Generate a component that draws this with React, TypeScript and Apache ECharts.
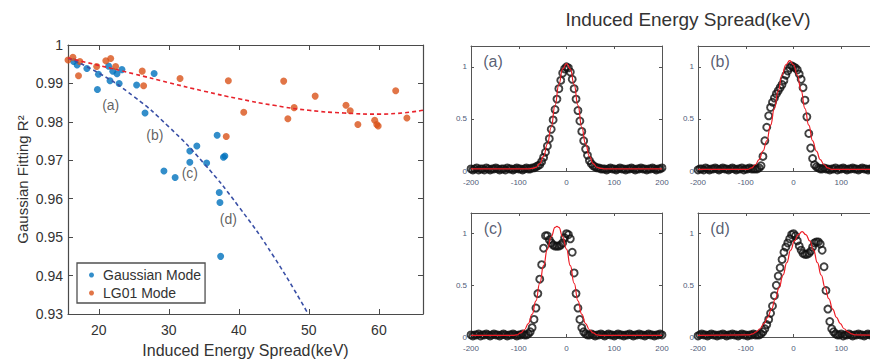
import { useEffect, useRef } from "react";
import * as echarts from "echarts";

// ---------- Left panel: Gaussian fitting R^2 vs induced energy spread ----------
const GAUSS_X = [16.4, 16.9, 18.3, 19.95, 19.8, 21.4, 21.6, 22.0, 22.6, 22.9, 23.3, 25.4, 27.9, 26.6, 36.9, 34.0, 33.0, 33.0, 35.4, 29.3, 30.9, 37.8, 38.0, 37.2, 37.3, 37.4];
const GAUSS_Y = [0.9957, 0.9948, 0.9939, 0.9924, 0.9884, 0.9945, 0.9907, 0.9932, 0.9925, 0.99, 0.9936, 0.9896, 0.9926, 0.9823, 0.9765, 0.9737, 0.9724, 0.9695, 0.9693, 0.9672, 0.9655, 0.9708, 0.9711, 0.9616, 0.959, 0.945];
const LG_X = [15.6, 16.3, 17.3, 17.1, 19.7, 21.0, 21.7, 22.4, 26.2, 26.4, 31.6, 38.5, 38.2, 40.7, 46.4, 47.0, 47.9, 50.9, 55.3, 55.9, 57.0, 59.4, 59.7, 59.9, 62.4, 64.0];
const LG_Y = [0.9961, 0.9968, 0.9957, 0.992, 0.9944, 0.9959, 0.9965, 0.9944, 0.9932, 0.9894, 0.9913, 0.9907, 0.9762, 0.9825, 0.9906, 0.9808, 0.9837, 0.9867, 0.9843, 0.9829, 0.9793, 0.9804, 0.9793, 0.9789, 0.9881, 0.981];
const GAUSS_FIT_X = [15.6, 20, 25, 30, 35, 40, 45, 49.9];
const GAUSS_FIT_Y = [0.9966, 0.9927, 0.9866, 0.9787, 0.9692, 0.9579, 0.9449, 0.93];
const LG_FIT_X = [15.6, 20, 25, 30, 35, 40, 45, 50, 55, 60, 66.3];
const LG_FIT_Y = [0.9966, 0.9947, 0.9925, 0.9902, 0.988, 0.986, 0.9843, 0.983, 0.9823, 0.982, 0.983];
const CASE_LABELS = ["(a)", "(b)", "(c)", "(d)"];
const CASE_X = [21.7, 28.0, 33.0, 38.5];
const CASE_Y = [0.9845, 0.9765, 0.9667, 0.9546];
const MAIN_X_TICKS = [20, 30, 40, 50, 60];
const MAIN_Y_TICKS = [0.93, 0.94, 0.95, 0.96, 0.97, 0.98, 0.99, 1];

// ---------- Right panels: energy profiles (circles) and Gaussian fits (red) ----------
const ENERGY_KEV = [
  -200, -196, -192, -188, -184, -180, -176, -172, -168, -164,
  -160, -156, -152, -148, -144, -140, -136, -132, -128, -124,
  -120, -116, -112, -108, -104, -100, -96, -92, -88, -84,
  -80, -76, -72, -68, -64, -60, -56, -52, -48, -44,
  -40, -36, -32, -28, -24, -20, -16, -12, -8, -4,
  0,
  4, 8, 12, 16, 20, 24, 28, 32, 36, 40,
  44, 48, 52, 56, 60, 64, 68, 72, 76, 80,
  84, 88, 92, 96, 100, 104, 108, 112, 116, 120,
  124, 128, 132, 136, 140, 144, 148, 152, 156, 160,
  164, 168, 172, 176, 180, 184, 188, 192, 196, 200,
];
const PROFILE_A = [
  0.02, 0.01, 0.02, 0.03, 0.01, 0.02, 0.02, 0.01, 0.03, 0.02,
  0.01, 0.02, 0.02, 0.03, 0.02, 0.01, 0.02, 0.02, 0.01, 0.03,
  0.02, 0.02, 0.01, 0.02, 0.03, 0.02, 0.02, 0.01, 0.02, 0.03,
  0.02, 0.02, 0.03, 0.03, 0.04, 0.05, 0.06, 0.09, 0.13, 0.18,
  0.24, 0.31, 0.4, 0.49, 0.59, 0.69, 0.79, 0.87, 0.94, 0.98,
  1.0,
  0.99, 0.95, 0.88, 0.79, 0.69, 0.58, 0.48, 0.38, 0.29, 0.21,
  0.15, 0.1, 0.07, 0.05, 0.04, 0.03, 0.03, 0.02, 0.02, 0.02,
  0.01, 0.02, 0.03, 0.02, 0.02, 0.01, 0.02, 0.03, 0.02, 0.02,
  0.01, 0.02, 0.02, 0.03, 0.02, 0.01, 0.02, 0.02, 0.03, 0.02,
  0.02, 0.01, 0.02, 0.02, 0.03, 0.02, 0.01, 0.02, 0.02, 0.03,
];
const PROFILE_B = [
  0.01, 0.02, 0.02, 0.01, 0.03, 0.02, 0.01, 0.02, 0.02, 0.03,
  0.02, 0.01, 0.02, 0.03, 0.02, 0.02, 0.01, 0.02, 0.03, 0.02,
  0.01, 0.02, 0.02, 0.03, 0.01, 0.02, 0.02, 0.03, 0.02, 0.02,
  0.02, 0.02, 0.03, 0.05, 0.14, 0.29, 0.42, 0.53, 0.61, 0.66,
  0.7, 0.74, 0.77, 0.8, 0.83, 0.87, 0.92, 0.96, 0.99, 1.01,
  1.0,
  0.99, 0.97, 0.93, 0.88, 0.8, 0.68, 0.52, 0.36, 0.22, 0.12,
  0.06, 0.04, 0.03, 0.02, 0.02, 0.03, 0.02, 0.02, 0.01, 0.02,
  0.02, 0.03, 0.01, 0.02, 0.02, 0.03, 0.02, 0.01, 0.02, 0.02,
  0.03, 0.02, 0.02, 0.01, 0.02, 0.03, 0.02, 0.02, 0.01, 0.02,
  0.02, 0.03, 0.02, 0.01, 0.02, 0.02, 0.03, 0.02, 0.02, 0.01,
];
const PROFILE_C = [
  0.02, 0.01, 0.02, 0.02, 0.03, 0.01, 0.02, 0.02, 0.03, 0.02,
  0.01, 0.02, 0.03, 0.02, 0.02, 0.01, 0.02, 0.03, 0.02, 0.01,
  0.02, 0.02, 0.03, 0.02, 0.01, 0.02, 0.02, 0.03, 0.02, 0.02,
  0.03, 0.05, 0.09, 0.17, 0.28, 0.42, 0.56, 0.7, 0.86, 0.98,
  0.98, 0.94, 0.91, 0.89, 0.88, 0.88, 0.88, 0.89, 0.91, 0.96,
  1.0,
  0.99, 0.95, 0.82, 0.62, 0.42, 0.28, 0.17, 0.09, 0.05, 0.03,
  0.02, 0.02, 0.03, 0.02, 0.01, 0.02, 0.02, 0.03, 0.02, 0.01,
  0.02, 0.03, 0.02, 0.02, 0.01, 0.02, 0.03, 0.02, 0.02, 0.01,
  0.02, 0.02, 0.03, 0.02, 0.01, 0.02, 0.02, 0.03, 0.02, 0.02,
  0.01, 0.02, 0.03, 0.02, 0.02, 0.01, 0.02, 0.02, 0.03, 0.02,
];
const PROFILE_D = [
  0.01, 0.02, 0.03, 0.02, 0.02, 0.01, 0.02, 0.03, 0.02, 0.02,
  0.01, 0.02, 0.02, 0.03, 0.02, 0.01, 0.02, 0.02, 0.03, 0.02,
  0.02, 0.01, 0.02, 0.03, 0.02, 0.02, 0.01, 0.02, 0.02, 0.03,
  0.02, 0.02, 0.02, 0.03, 0.05, 0.08, 0.12, 0.17, 0.23, 0.3,
  0.4, 0.5, 0.59, 0.67, 0.75, 0.82, 0.87, 0.91, 0.95, 0.99,
  1.0,
  0.98, 0.93, 0.88, 0.84, 0.81, 0.8, 0.8, 0.81, 0.83, 0.87,
  0.91, 0.92, 0.92, 0.9, 0.84, 0.68, 0.45, 0.27, 0.15, 0.08,
  0.05, 0.03, 0.02, 0.02, 0.03, 0.01, 0.02, 0.02, 0.03, 0.02,
  0.01, 0.02, 0.02, 0.03, 0.02, 0.02, 0.01, 0.02, 0.03, 0.02,
  0.02, 0.01, 0.02, 0.02, 0.03, 0.02, 0.02, 0.01, 0.02, 0.02,
];
const FIT_A_X = [-200, -88, -80, -72, -64, -56, -48, -40, -32, -24, -16, -8, 0, 8, 16, 24, 32, 40, 48, 56, 64, 72, 80, 88, 200];
const FIT_A_Y = [0.02, 0.02, 0.02, 0.025, 0.035, 0.07, 0.14, 0.26, 0.42, 0.63, 0.83, 0.98, 1.03, 0.98, 0.83, 0.63, 0.42, 0.26, 0.14, 0.07, 0.035, 0.025, 0.02, 0.02, 0.02];
const FIT_B_X = [-200, -104, -96, -88, -80, -72, -64, -56, -48, -40, -32, -24, -16, -8, 0, 8, 16, 24, 32, 40, 48, 56, 64, 72, 80, 88, 200];
const FIT_B_Y = [0.015, 0.015, 0.015, 0.03, 0.06, 0.11, 0.19, 0.29, 0.44, 0.6, 0.77, 0.92, 1.02, 1.06, 1.02, 0.92, 0.77, 0.6, 0.44, 0.29, 0.19, 0.11, 0.06, 0.03, 0.015, 0.015, 0.015];
const FIT_C_X = [-200, -112, -104, -96, -88, -80, -72, -64, -56, -48, -40, -32, -24, -20, -16, -8, 0, 8, 16, 24, 32, 40, 48, 56, 64, 72, 200];
const FIT_C_Y = [0.015, 0.015, 0.02, 0.04, 0.07, 0.13, 0.22, 0.35, 0.52, 0.69, 0.85, 0.97, 1.06, 1.07, 1.06, 0.97, 0.85, 0.69, 0.52, 0.35, 0.22, 0.13, 0.07, 0.04, 0.02, 0.015, 0.015];
const FIT_D_X = [-200, -94, -86, -78, -70, -62, -54, -46, -38, -30, -22, -14, -6, 2, 10, 18, 26, 34, 42, 50, 58, 66, 74, 82, 90, 98, 106, 114, 122, 130, 200];
const FIT_D_Y = [0.015, 0.02, 0.03, 0.05, 0.08, 0.13, 0.19, 0.27, 0.37, 0.48, 0.6, 0.72, 0.84, 0.93, 0.99, 1.02, 0.99, 0.93, 0.84, 0.72, 0.6, 0.48, 0.37, 0.27, 0.19, 0.13, 0.08, 0.05, 0.03, 0.02, 0.015];
const SUB_X_TICKS = [-200, -100, 0, 100, 200];
const SUB_Y_TICKS = [0, 0.5, 1];
const SUB_LABELS = ["(a)", "(b)", "(c)", "(d)"];

const FONT = "'Liberation Sans', Arial, Helvetica, sans-serif";
const TEXT = "#333333";
const AXIS = "#4a4a4a";
const SUB_TEXT = "#4f5b78";
const BLUE = "#0072BD";
const ORANGE = "#D95319";

const zip = (xs: number[], ys: number[]) => xs.map((x, i) => [x, ys[i]]);

export default function App() {
  const ref = useRef<HTMLDivElement>(null);

  useEffect(() => {
    if (!ref.current) return;
    const chart = echarts.init(ref.current, null, { renderer: "svg" });

    const grids: any[] = [
      { left: 68, top: 45, width: 355, height: 269 },
      { left: 471, top: 46, width: 191, height: 125 },
      { left: 698, top: 46, width: 191, height: 125 },
      { left: 471, top: 213, width: 191, height: 124 },
      { left: 698, top: 213, width: 191, height: 124 },
    ];

    const line = { show: true, onZero: false, lineStyle: { color: AXIS, width: 1.2 } };
    const xAxes: any[] = [];
    const yAxes: any[] = [];

    // main panel axes
    xAxes.push({
      type: "value", gridIndex: 0, position: "bottom", min: 15.6, max: 66.3,
      axisLine: line,
      axisTick: { show: true, inside: true, length: 5, customValues: MAIN_X_TICKS, lineStyle: { color: AXIS } },
      axisLabel: { show: true, customValues: MAIN_X_TICKS, fontSize: 14, color: TEXT, margin: 9, fontFamily: FONT },
      splitLine: { show: false },
      name: "Induced Energy Spread(keV)", nameLocation: "middle", nameGap: 28,
      nameTextStyle: { fontSize: 16, color: TEXT, fontFamily: FONT },
    });
    xAxes.push({
      type: "value", gridIndex: 0, position: "top", min: 15.6, max: 66.3,
      axisLine: line,
      axisTick: { show: true, inside: true, length: 5, customValues: MAIN_X_TICKS, lineStyle: { color: AXIS } },
      axisLabel: { show: false }, splitLine: { show: false },
    });
    yAxes.push({
      type: "value", gridIndex: 0, position: "left", min: 0.93, max: 1,
      axisLine: line,
      axisTick: { show: true, inside: true, length: 5, customValues: MAIN_Y_TICKS, lineStyle: { color: AXIS } },
      axisLabel: {
        show: true, customValues: MAIN_Y_TICKS, fontSize: 14, color: TEXT, margin: 5, fontFamily: FONT,
        formatter: (v: number) => (Math.abs(v - 1) < 1e-9 ? "1" : v.toFixed(2)),
      },
      splitLine: { show: false },
      name: "Gaussian Fitting R²", nameLocation: "middle", nameGap: 38,
      nameTextStyle: { fontSize: 15, color: TEXT, fontFamily: FONT },
    });
    yAxes.push({
      type: "value", gridIndex: 0, position: "right", min: 0.93, max: 1,
      axisLine: line,
      axisTick: { show: true, inside: true, length: 5, customValues: MAIN_Y_TICKS, lineStyle: { color: AXIS } },
      axisLabel: { show: false }, splitLine: { show: false },
    });

    // sub panels axes
    const subLine = { show: true, onZero: false, lineStyle: { color: "#555", width: 1 } };
    for (let g = 1; g <= 4; g++) {
      const bottomRow = g >= 3;
      xAxes.push({
        type: "value", gridIndex: g, position: "bottom", min: -200, max: 200,
        axisLine: subLine,
        axisTick: { show: true, inside: true, length: 3, customValues: SUB_X_TICKS, lineStyle: { color: "#555" } },
        axisLabel: { show: true, customValues: SUB_X_TICKS, fontSize: 8, color: SUB_TEXT, margin: 7, fontFamily: FONT },
        splitLine: { show: false },
        ...(bottomRow
          ? {
              name: "Relative Energy (keV)", nameLocation: "middle", nameGap: 24,
              nameTextStyle: { fontSize: 15, color: TEXT, fontFamily: FONT },
            }
          : {}),
      });
      xAxes.push({
        type: "value", gridIndex: g, position: "top", min: -200, max: 200,
        axisLine: subLine,
        axisTick: { show: true, inside: true, length: 3, customValues: SUB_X_TICKS, lineStyle: { color: "#555" } },
        axisLabel: { show: false }, splitLine: { show: false },
      });
      yAxes.push({
        type: "value", gridIndex: g, position: "left", min: 0, max: 1.2,
        axisLine: subLine,
        axisTick: { show: true, inside: true, length: 3, customValues: SUB_Y_TICKS, lineStyle: { color: "#555" } },
        axisLabel: { show: true, customValues: SUB_Y_TICKS, fontSize: 8, color: SUB_TEXT, margin: 4, fontFamily: FONT },
        splitLine: { show: false },
      });
      yAxes.push({
        type: "value", gridIndex: g, position: "right", min: 0, max: 1.2,
        axisLine: subLine,
        axisTick: { show: true, inside: true, length: 3, customValues: SUB_Y_TICKS, lineStyle: { color: "#555" } },
        axisLabel: { show: false }, splitLine: { show: false },
      });
    }

    const series: any[] = [
      {
        name: "Gaussian Mode", type: "scatter", xAxisIndex: 0, yAxisIndex: 0,
        symbol: "circle", symbolSize: 7, itemStyle: { color: BLUE },
        data: zip(GAUSS_X, GAUSS_Y),
      },
      {
        name: "LG01 Mode", type: "scatter", xAxisIndex: 0, yAxisIndex: 0,
        symbol: "circle", symbolSize: 7, itemStyle: { color: ORANGE },
        data: zip(LG_X, LG_Y),
      },
      {
        name: "Gaussian fit", type: "line", xAxisIndex: 0, yAxisIndex: 0, smooth: true,
        showSymbol: false, symbol: "none",
        lineStyle: { color: "#3a50a6", width: 1.6, type: [4, 3] },
        data: zip(GAUSS_FIT_X, GAUSS_FIT_Y),
      },
      {
        name: "LG01 fit", type: "line", xAxisIndex: 0, yAxisIndex: 0, smooth: true,
        showSymbol: false, symbol: "none",
        lineStyle: { color: "#e8222b", width: 1.6, type: [4, 3] },
        data: zip(LG_FIT_X, LG_FIT_Y),
      },
      {
        name: "cases", type: "scatter", xAxisIndex: 0, yAxisIndex: 0, symbolSize: 1,
        itemStyle: { color: "rgba(0,0,0,0)" }, silent: true,
        label: { show: true, position: "inside", formatter: "{b}", fontSize: 14, color: "#3a3a3a", fontFamily: FONT },
        data: CASE_LABELS.map((n, i) => ({ name: n, value: [CASE_X[i], CASE_Y[i]] })),
      },
    ];

    const profiles = [PROFILE_A, PROFILE_B, PROFILE_C, PROFILE_D];
    const fits = [
      zip(FIT_A_X, FIT_A_Y),
      zip(FIT_B_X, FIT_B_Y),
      zip(FIT_C_X, FIT_C_Y),
      zip(FIT_D_X, FIT_D_Y),
    ];
    for (let k = 0; k < 4; k++) {
      const g = k + 1;
      series.push({
        name: "profile " + SUB_LABELS[k], type: "scatter", xAxisIndex: 2 * g, yAxisIndex: 2 * g,
        symbol: "circle", symbolSize: 7,
        itemStyle: { color: "rgba(0,0,0,0)", borderColor: "#111111", borderWidth: 1.9 },
        data: zip(ENERGY_KEV, profiles[k]),
      });
      series.push({
        name: "fit " + SUB_LABELS[k], type: "line", xAxisIndex: 2 * g, yAxisIndex: 2 * g,
        smooth: true, smoothMonotone: "x", showSymbol: false, symbol: "none",
        lineStyle: { color: "#ee1c25", width: 1.2 },
        data: fits[k],
      });
      series.push({
        name: "label " + SUB_LABELS[k], type: "scatter", xAxisIndex: 2 * g, yAxisIndex: 2 * g,
        symbolSize: 1, itemStyle: { color: "rgba(0,0,0,0)" }, silent: true,
        label: { show: true, position: "inside", formatter: "{b}", fontSize: 16, color: "#2e3550", fontFamily: FONT },
        data: [{ name: SUB_LABELS[k], value: [-154, 1.05] }],
      });
    }

    chart.setOption({
      animation: false,
      backgroundColor: "#ffffff",
      textStyle: { fontFamily: FONT },
      title: {
        text: "Induced Energy Spread(keV)", left: 683, top: 5, textAlign: "center",
        textStyle: { fontSize: 19, fontWeight: "normal", color: TEXT, fontFamily: FONT },
      },
      legend: {
        data: ["Gaussian Mode", "LG01 Mode"], orient: "vertical", left: 77, top: 263,
        padding: [5, 4, 3, 12], itemGap: 4, itemWidth: 5, itemHeight: 5, icon: "circle",
        borderColor: "#505050", borderWidth: 1.3, backgroundColor: "#ffffff",
        textStyle: { fontSize: 14, color: TEXT, fontFamily: FONT, padding: [0, 0, 0, 4] },
      },
      grid: grids,
      xAxis: xAxes,
      yAxis: yAxes,
      series,
    });

    return () => chart.dispose();
  }, []);

  return (
    <div style={{ position: "fixed", left: 0, top: 0, width: 870, height: 363, overflow: "hidden", background: "#fff" }}>
      <div ref={ref} style={{ width: 900, height: 385 }} />
    </div>
  );
}
